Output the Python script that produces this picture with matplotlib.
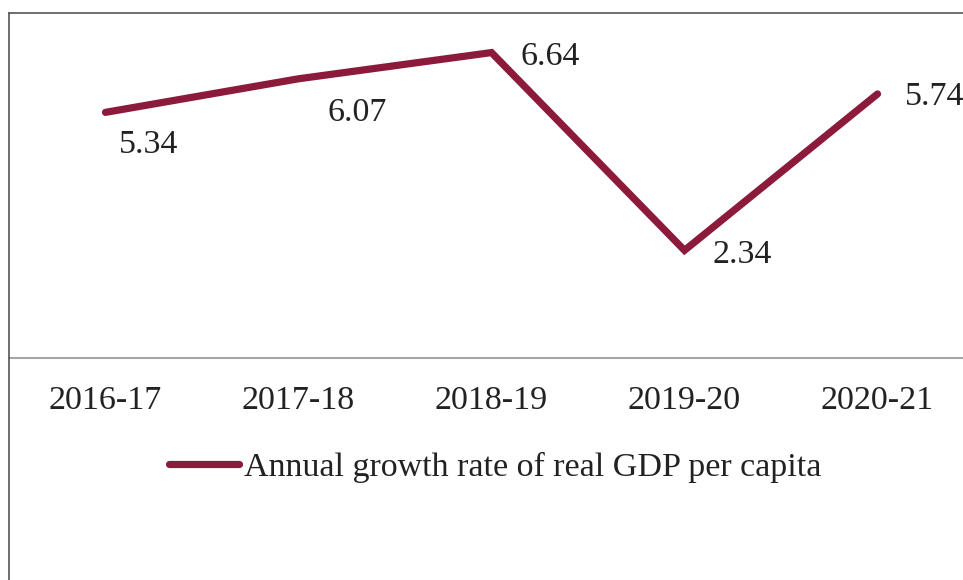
import matplotlib
matplotlib.use("Agg")
import matplotlib.pyplot as plt
from matplotlib.lines import Line2D

years = ["2016-17", "2017-18", "2018-19", "2019-20", "2020-21"]
growth = [5.34, 6.07, 6.64, 2.34, 5.74]

W, H = 963, 580
fig = plt.figure(figsize=(W / 100, H / 100), dpi=100)
plt.rcParams["font.family"] = ["Liberation Serif", "DejaVu Serif"]

line_color = "#8c1a3b"
text_color = "#222222"
fs = 24.5

# plot area: left edge at x=9px, top at 13px, baseline (y=0) at 358px
left, top, base = 9, 13, 358
ax = fig.add_axes([left / W, 1 - base / H, (974 - left) / W, (base - top) / H])
x = list(range(len(years)))
ax.plot(x, growth, color=line_color, lw=5.2, solid_capstyle="round",
        solid_joinstyle="miter", label="Annual growth rate of real GDP per capita",
        clip_on=False)
ax.set_xlim(-0.5, 4.5)
ax.set_ylim(0, 7.5)
ax.set_yticks([])
ax.set_xticks(x)
ax.set_xticklabels(years, fontsize=fs, color=text_color)
ax.tick_params(axis="x", length=0, pad=20)
for s in ["top", "right", "left"]:
    ax.spines[s].set_visible(False)
ax.spines["bottom"].set_color("#a6a6a6")
ax.spines["bottom"].set_linewidth(1.5)

# data labels: first two sit below the line, the rest to the right of the point
label_style = [
    dict(xytext=(31, -29.5), ha="center"),
    dict(xytext=(42, -30.2), ha="center"),
    dict(xytext=(21.2, -8.6), ha="left"),
    dict(xytext=(20.5, -9.0), ha="left"),
    dict(xytext=(20.0, -8.0), ha="left"),
]
for xi, v, st in zip(x, growth, label_style):
    ax.annotate(f"{v:.2f}", (xi, v), textcoords="offset points", va="baseline",
                fontsize=fs, color=text_color, **st)

# outer chart frame (left and top edges)
fig.add_artist(Line2D([left / W, left / W], [0, 1 - top / H], transform=fig.transFigure,
                      color="#555555", lw=1.2))
fig.add_artist(Line2D([left / W, 1], [1 - top / H, 1 - top / H], transform=fig.transFigure,
                      color="#555555", lw=1.2))

leg = fig.legend(loc="center", bbox_to_anchor=(495 / W, 1 - 467 / H), frameon=False,
                 fontsize=fs, handlelength=2.06, handletextpad=0.15,
                 labelcolor=text_color)
for h in leg.get_lines():
    h.set_solid_capstyle("round")

fig.savefig("out.png", dpi=100)
